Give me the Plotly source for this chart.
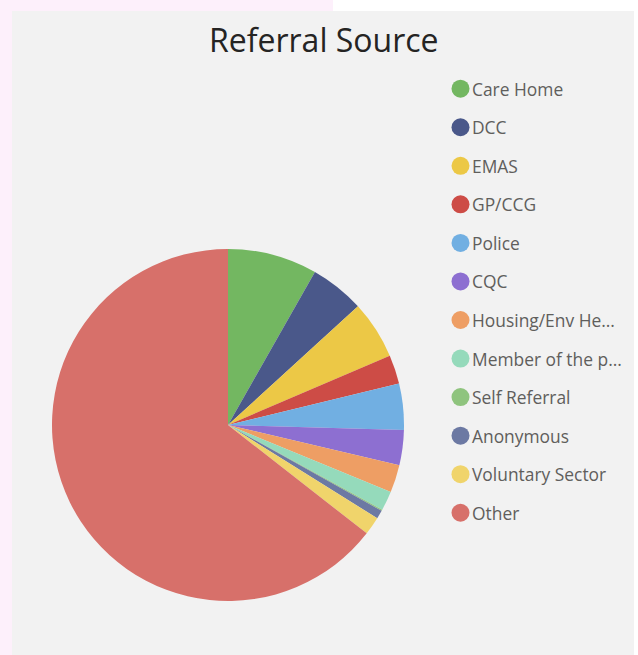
import plotly.graph_objects as go

# ---- data ----
labels = ["Care Home", "DCC", "EMAS", "GP/CCG", "Police", "CQC",
          "Housing/Env Health", "Member of the public", "Self Referral",
          "Anonymous", "Voluntary Sector", "Other"]
legend_text = ["Care Home", "DCC", "EMAS", "GP/CCG", "Police", "CQC",
               "Housing/Env He...", "Member of the p...", "Self Referral",
               "Anonymous", "Voluntary Sector", "Other"]
values = [74, 45, 48, 24, 38, 29, 23, 16, 1, 7, 15, 580]
colors = ["#73b761", "#4a588a", "#ecc846", "#cd4c46", "#71afe2", "#8d6fd1",
          "#ee9e64", "#95dabb", "#8fc47e", "#6c79a3", "#f0d46b", "#d7706a"]

# ---- layout constants (pixels) ----
W, H = 638, 655
cx, cy, r = 228, 425, 176
FONT = "Open Sans"

fig = go.Figure()
fig.add_trace(go.Pie(
    labels=labels, values=values, sort=False, direction="clockwise",
    rotation=0, textinfo="none", hoverinfo="label+value+percent",
    marker=dict(colors=colors, line=dict(width=0)),
    domain=dict(x=[(cx - r) / W, (cx + r) / W],
                y=[(H - cy - r) / H, (H - cy + r) / H]),
    showlegend=False,
))

shapes = [
    # pink strip on left and top-left, white at top-right and right edge
    dict(type="rect", xref="paper", yref="paper", x0=0, x1=12 / W, y0=0, y1=1,
         fillcolor="#fdf0fb", line_width=0, layer="below"),
    dict(type="rect", xref="paper", yref="paper", x0=0, x1=333 / W,
         y0=(H - 11) / H, y1=1, fillcolor="#fdf0fb", line_width=0, layer="below"),
    dict(type="rect", xref="paper", yref="paper", x0=333 / W, x1=1,
         y0=(H - 11) / H, y1=1, fillcolor="#ffffff", line_width=0, layer="below"),
    dict(type="rect", xref="paper", yref="paper", x0=634 / W, x1=1,
         y0=0, y1=1, fillcolor="#ffffff", line_width=0, layer="below"),
]

annotations = [dict(text="Referral Source", xref="paper", yref="paper",
                    x=324 / W, y=(H - 40) / H, xanchor="center", yanchor="middle",
                    showarrow=False, font=dict(family=FONT, size=32, color="#252423"))]

# ---- custom legend ----
leg_x_marker, leg_x_text, leg_y0, leg_dy = 460.5, 470, 88.7, 38.55
for i, (t, c) in enumerate(zip(legend_text, colors)):
    yy = (H - (leg_y0 + i * leg_dy)) / H
    shapes.append(dict(type="circle", xref="paper", yref="paper",
                       xsizemode="pixel", ysizemode="pixel",
                       xanchor=leg_x_marker / W, yanchor=yy,
                       x0=-9, x1=9, y0=-9, y1=9,
                       fillcolor=c, line_width=0))
    annotations.append(dict(text=t, xref="paper", yref="paper",
                            x=leg_x_text / W, y=yy, xanchor="left", yanchor="middle",
                            showarrow=False,
                            font=dict(family=FONT, size=17.4, color="#605e5c")))

fig.update_layout(
    width=W, height=H, autosize=False,
    margin=dict(l=0, r=0, t=0, b=0),
    paper_bgcolor="#f2f2f2", plot_bgcolor="#f2f2f2",
    shapes=shapes, annotations=annotations,
)

fig.write_html("out.html", config={"displayModeBar": False},
               post_script="document.body.style.margin='0';")
